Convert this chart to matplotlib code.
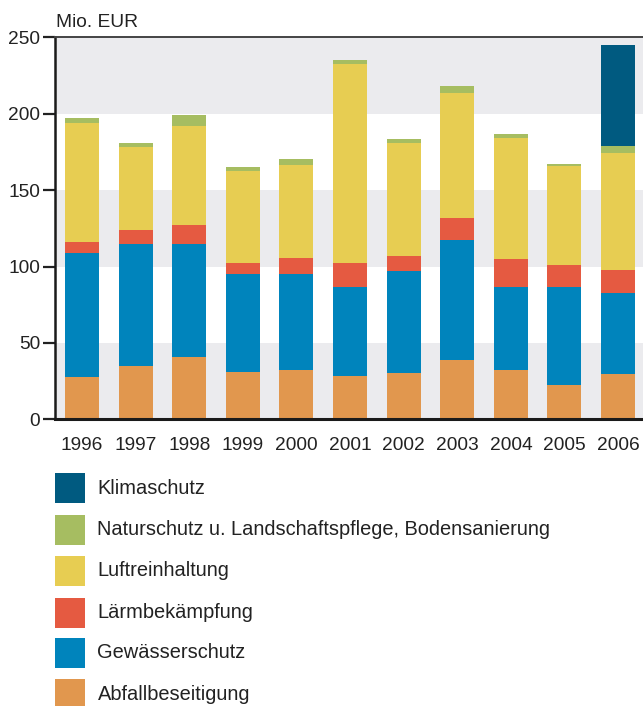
import matplotlib.pyplot as plt
import numpy as np
from matplotlib.patches import Rectangle

plt.rcParams['font.family'] = ['Liberation Sans', 'DejaVu Sans']

# Data (Mio. EUR)
years = ['1996', '1997', '1998', '1999', '2000', '2001', '2002', '2003', '2004', '2005', '2006']
abfall = [27.7, 34.9, 40.8, 31.0, 32.3, 28.3, 30.3, 38.8, 32.3, 22.5, 29.7]
gewaesser = [81.1, 79.8, 73.9, 64.1, 62.8, 58.3, 66.7, 78.6, 54.3, 64.1, 53.0]
laerm = [7.2, 9.2, 12.5, 7.2, 10.5, 15.7, 9.9, 14.4, 18.3, 14.4, 15.0]
luft = [77.9, 54.3, 64.7, 60.2, 60.8, 130.2, 73.9, 81.7, 79.2, 64.8, 76.6]
natur = [3.3, 2.6, 7.3, 2.6, 3.9, 2.6, 2.6, 4.6, 2.6, 1.3, 4.6]
klima = [0, 0, 0, 0, 0, 0, 0, 0, 0, 0, 66.1]

series = [
    ('Abfallbeseitigung', abfall, '#E1974E'),
    ('Gewässerschutz', gewaesser, '#0084BC'),
    ('Lärmbekämpfung', laerm, '#E55A41'),
    ('Luftreinhaltung', luft, '#E7CD52'),
    ('Naturschutz u. Landschaftspflege, Bodensanierung', natur, '#A6BD61'),
    ('Klimaschutz', klima, '#005A80'),
]

W, H = 643, 706
fig = plt.figure(figsize=(W / 100, H / 100), dpi=100, facecolor='white')

# axes placed in pixel terms
ax_l, ax_r, ax_top, ax_bot = 55, 643, 37.3, 419.3
ax = fig.add_axes([ax_l / W, 1 - ax_bot / H, (ax_r - ax_l) / W, (ax_bot - ax_top) / H])

# alternating background bands
for lo in (0, 100, 200):
    ax.axhspan(lo, lo + 50, color='#EBEBEE', zorder=0, lw=0)

x = np.arange(len(years))
bottom = np.zeros(len(years))
for name, vals, col in series:
    vals = np.array(vals)
    ax.bar(x, vals, width=0.634, bottom=bottom, color=col, zorder=2, linewidth=0)
    bottom += vals

ax.set_xlim(-0.504, 10.466)
ax.set_ylim(0, 250)
ax.set_yticks([0, 50, 100, 150, 200, 250])
ax.set_xticks(x)
ax.set_xticklabels(years)

ax.tick_params(axis='y', length=8.6, width=1.6, color='#222222', labelsize=13.8,
               labelcolor='#222222', pad=2)
ax.tick_params(axis='x', length=0, labelsize=13.8, labelcolor='#222222', pad=13)

ax.spines['right'].set_visible(False)
ax.spines['left'].set_linewidth(1.8)
ax.spines['left'].set_color('#1a1a1a')
ax.spines['bottom'].set_linewidth(2.2)
ax.spines['bottom'].set_color('#1a1a1a')
ax.spines['top'].set_linewidth(1.4)
ax.spines['top'].set_color('#444444')
for s in ax.spines.values():
    s.set_zorder(3)

fig.text(56 / W, 1 - 22.7 / H, 'Mio. EUR', fontsize=13.8, color='#222222', va='center', ha='left')

# legend, top to bottom: reversed stacking order
row_y = [488, 529.5, 571, 612.5, 653, 694]
for (name, vals, col), yc in zip(series[::-1], row_y):
    fig.patches.append(Rectangle((55 / W, 1 - (yc + 15) / H), 30 / W, 30 / H,
                                 transform=fig.transFigure, facecolor=col, lw=0))
    fig.text(97.5 / W, 1 - yc / H, name, fontsize=14.4, color='#222222', va='center', ha='left')

fig.savefig('out.png', dpi=100, facecolor=fig.get_facecolor())
